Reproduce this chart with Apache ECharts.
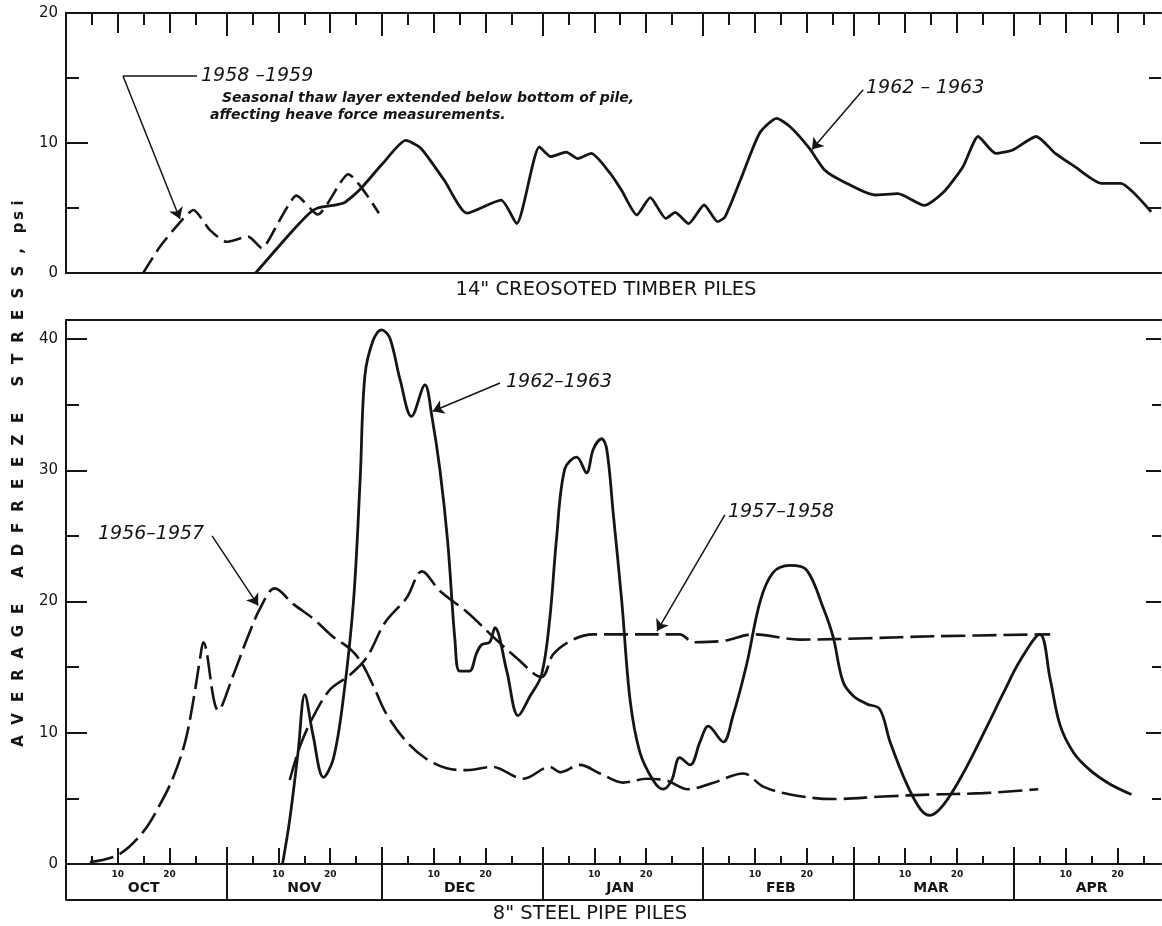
<!DOCTYPE html>
<html><head><meta charset="utf-8">
<script src="https://cdn.jsdelivr.net/npm/echarts@6/dist/echarts.min.js"></script>
<style>html,body{margin:0;padding:0;background:#fff;}#c{width:1162px;height:926px;}</style>
</head><body><div id="c"></div>
<script>
// ---------- data (day offset from 1 Oct boundary, value in psi) ----------
const monthNames = ['OCT','NOV','DEC','JAN','FEB','MAR','APR'];
const monthStarts = [0, 31, 61, 92, 123, 152, 183];
const dayTickLabels = ['10', '20'];
const topYLabels = [0, 10, 20];
const botYLabels = [0, 10, 20, 30, 40];

// 14" creosoted timber piles
const t5859Day = [14.9, 18.1, 22.0, 24.6, 27.8, 31.0, 35.2, 37.8, 41.3, 44.5, 48.6, 54.5, 60.4];
const t5859Val = [0, 2.0, 3.9, 4.85, 3.3, 2.4, 2.8, 1.9, 4.1, 5.95, 4.5, 7.6, 4.6];

const t6263Day = [36.6, 43.4, 47.0, 48.6, 51.5, 53.7, 56.7, 61.1, 65.6, 68.5, 73.0, 77.4, 84.0, 87.0, 91.4, 93.6, 96.6, 98.8, 101.4, 105.0, 107.2, 110.2, 112.8, 115.8, 117.6, 120.2, 123.2, 125.8, 127.2, 130.2, 133.9, 137.2, 139.8, 143.5, 146.5, 150.2, 156.1, 160.6, 165.7, 169.5, 173.2, 176.1, 179.5, 182.8, 187.3, 191.0, 194.7, 199.9, 203.6, 209.5];
const t6263Val = [0, 3.1, 4.6, 5.0, 5.2, 5.4, 6.4, 8.4, 10.2, 9.6, 7.15, 4.6, 5.6, 3.8, 9.7, 8.95, 9.3, 8.8, 9.2, 7.7, 6.4, 4.46, 5.8, 4.2, 4.67, 3.8, 5.23, 3.95, 4.3, 7.15, 10.75, 11.9, 11.25, 9.6, 7.9, 7.0, 6.0, 6.1, 5.2, 6.25, 8.2, 10.5, 9.2, 9.46, 10.5, 9.2, 8.2, 6.9, 6.9, 4.7];

// 8" steel pipe piles
const s5657Day = [4.6, 10.1, 14.9, 18.1, 20.7, 23.0, 24.6, 25.9, 26.5, 29.4, 32.3, 34.9, 37.5, 40.3, 43.9, 47.7, 51.6, 54.8, 56.8, 59.3, 61.9, 65.8, 69.6, 73.5, 77.4, 82.2, 88.3, 93.4, 95.4, 99.2, 103.1, 107.6, 112.1, 116.0, 120.1, 125.0, 130.8, 134.6, 139.8, 148.1, 157.8, 167.4, 177.1, 187.7];
const s5657Val = [0.15, 0.7, 2.45, 4.5, 6.6, 9.3, 12.5, 15.7, 16.9, 11.7, 14.4, 17.1, 19.5, 21.0, 19.8, 18.7, 17.3, 16.4, 15.5, 13.6, 11.4, 9.3, 8.0, 7.3, 7.15, 7.4, 6.5, 7.4, 7.0, 7.55, 6.9, 6.2, 6.5, 6.35, 5.7, 6.2, 6.9, 5.9, 5.3, 4.95, 5.14, 5.3, 5.4, 5.7];

const s5758Day = [43.2, 45.2, 47.7, 51.0, 54.8, 58.0, 61.6, 65.8, 68.7, 72.2, 77.4, 82.5, 87.0, 91.8, 94.1, 97.9, 101.8, 118.5, 121.1, 126.9, 132.7, 141.7, 154.6, 167.4, 190.0];
const s5758Val = [6.4, 9.0, 11.2, 13.3, 14.4, 15.7, 18.4, 20.3, 22.3, 20.8, 19.2, 17.3, 15.7, 14.25, 16.0, 17.1, 17.5, 17.5, 16.9, 17.0, 17.5, 17.1, 17.2, 17.35, 17.5];

const s6263Day = [41.8, 43.2, 44.8, 46.1, 47.7, 49.7, 51.6, 53.5, 55.5, 56.8, 57.7, 59.3, 60.9, 62.5, 64.5, 66.7, 69.3, 70.6, 72.2, 73.7, 75.1, 76.0, 77.9, 79.2, 80.2, 81.8, 82.8, 85.1, 87.3, 89.6, 91.8, 93.4, 94.7, 96.3, 98.6, 100.5, 101.8, 103.4, 104.4, 105.7, 107.3, 108.9, 110.8, 113.4, 115.3, 116.9, 118.5, 120.5, 122.4, 124.0, 126.9, 128.7, 131.4, 134.0, 136.5, 139.8, 143.0, 146.2, 148.1, 150.0, 152.0, 154.6, 157.1, 159.1, 162.3, 164.9, 166.8, 169.4, 173.2, 177.7, 181.0, 184.2, 188.0, 190.0, 191.9, 194.5, 197.7, 201.5, 205.7];
const s6263Val = [0, 3.4, 8.5, 12.9, 9.8, 6.6, 8.0, 12.5, 20.0, 29.4, 37.2, 39.9, 40.7, 40.1, 36.9, 34.1, 36.5, 34.2, 30.0, 24.5, 17.0, 14.7, 14.7, 16.0, 16.7, 16.9, 18.0, 14.7, 11.3, 12.8, 14.4, 18.7, 24.8, 30.1, 31.0, 29.8, 31.6, 32.4, 31.6, 26.5, 20.0, 12.5, 8.5, 6.35, 5.7, 6.35, 8.1, 7.55, 9.3, 10.5, 9.3, 11.2, 15.2, 20.0, 22.2, 22.75, 22.4, 19.5, 17.3, 13.9, 12.8, 12.2, 11.8, 9.3, 6.1, 4.2, 3.7, 4.5, 6.9, 10.4, 13.05, 15.5, 17.5, 14.1, 10.6, 8.5, 7.15, 6.1, 5.3];

// ---------- layout ----------
const INK = '#151515';
const FONT = '"DejaVu Sans", Verdana, sans-serif';
const XMAX = 211.4;
const zip = (a, b) => a.map((d, i) => [d, b[i]]);

const minorTicks = monthStarts.flatMap(s => [5, 15, 25].map(d => s + d)).filter(v => v < XMAX);
const majorTicks = monthStarts.flatMap(s => dayTickLabels.map(d => s + Number(d))).filter(v => v < XMAX);
const monthLabelPos = monthStarts.map(s => s + 15);
function monthIndex(v) { let k = 0; for (let i = 0; i < monthStarts.length; i++) if (monthStarts[i] <= v + 1e-6) k = i; return k; }

function tick(values, len, inside) {
  return { show: true, inside: inside, length: len, customValues: values, lineStyle: { color: INK, width: 2 } };
}
const noTick = { show: false };
const noLabel = { show: false };
function xAx(grid, pos, line, axisTick, axisLabel, offset) {
  return { type: 'value', gridIndex: grid, position: pos, min: 0, max: XMAX, offset: offset || 0,
    axisLine: { show: line, onZero: false, lineStyle: { color: INK, width: 2 } },
    axisTick: axisTick, axisLabel: axisLabel, splitLine: { show: false } };
}
function yAx(grid, pos, max, line, axisTick, axisLabel) {
  return { type: 'value', gridIndex: grid, position: pos, min: 0, max: max,
    axisLine: { show: line, onZero: false, lineStyle: { color: INK, width: 2 } },
    axisTick: axisTick, axisLabel: axisLabel, splitLine: { show: false } };
}
const yLab = vals => ({ show: true, customValues: vals, margin: 8, fontSize: 15, color: INK, fontFamily: FONT });

const xAxis = [
  xAx(0, 'bottom', true, noTick, noLabel),
  xAx(0, 'top', true, tick(minorTicks, 12, true), noLabel),
  xAx(0, 'top', false, tick(majorTicks, 20, true), noLabel),
  xAx(0, 'top', false, tick(monthStarts, 23, true), noLabel),
  xAx(1, 'bottom', true, tick(minorTicks, 8, true), { show: true, customValues: majorTicks, margin: 6, fontSize: 9, fontWeight: 'bold', color: INK, fontFamily: FONT,
      formatter: v => String(Math.round(v - monthStarts[monthIndex(v)])) }),
  xAx(1, 'bottom', false, tick(majorTicks, 16, true), noLabel),
  xAx(1, 'bottom', false, tick(monthStarts, 17, true), { show: true, customValues: monthLabelPos, margin: 17, fontSize: 14, fontWeight: 'bold', color: INK, fontFamily: FONT,
      formatter: v => monthNames[monthIndex(v)] }),
  xAx(1, 'bottom', false, tick(monthStarts, 36, false), noLabel),
  xAx(1, 'bottom', true, noTick, noLabel, 36),
  xAx(1, 'top', true, noTick, noLabel)
];
const BMAX = 41.45;
const yAxis = [
  yAx(0, 'left', 20, true, tick([10], 22, true), yLab(topYLabels)),
  yAx(0, 'left', 20, false, tick([5, 15], 13, true), noLabel),
  yAx(0, 'right', 20, false, tick([10], 21, true), noLabel),
  yAx(0, 'right', 20, false, tick([5, 15], 12, true), noLabel),
  yAx(1, 'left', BMAX, true, tick([10, 20, 30, 40], 21, true), yLab(botYLabels)),
  yAx(1, 'left', BMAX, false, tick([5, 15, 25, 35], 13, true), noLabel),
  yAx(1, 'right', BMAX, false, tick([10, 20, 30, 40], 15, true), noLabel),
  yAx(1, 'right', BMAX, false, tick([5, 15, 25, 35], 9, true), noLabel)
];

const solid = { color: INK, width: 2.8 };
const dashedTop = { color: INK, width: 2.6, type: [18, 7] };
const dashedBot = { color: INK, width: 2.6, type: [24, 7] };
function lineSeries(name, xi, yi, data, style, smooth) {
  return { name: name, type: 'line', xAxisIndex: xi, yAxisIndex: yi, data: data, symbol: 'none', showSymbol: false,
    smooth: smooth, lineStyle: style, silent: true, z: 3 };
}
function leaders(xi, yi, segs, arrow) {
  return { type: 'lines', coordinateSystem: 'cartesian2d', xAxisIndex: xi, yAxisIndex: yi, silent: true,
    symbol: arrow ? ['none', 'arrow'] : ['none', 'none'], symbolSize: [0, 11],
    lineStyle: { color: INK, width: 1.5, opacity: 1, curveness: 0 },
    itemStyle: { color: INK }, data: segs.map(c => ({ coords: c })), z: 4 };
}

const series = [
  lineSeries('1958-1959', 0, 0, zip(t5859Day, t5859Val), dashedTop, 0.2),
  lineSeries('1962-1963 timber', 0, 0, zip(t6263Day, t6263Val), solid, 0.2),
  lineSeries('1956-1957', 4, 4, zip(s5657Day, s5657Val), dashedBot, 0.35),
  lineSeries('1957-1958', 4, 4, zip(s5758Day, s5758Val), dashedBot, 0.35),
  lineSeries('1962-1963 steel', 4, 4, zip(s6263Day, s6263Val), solid, 0.35),
  leaders(0, 0, [[[25.3, 15.15], [11.0, 15.15]]], false),
  leaders(0, 0, [[[11.0, 15.15], [22.0, 4.15]], [[153.9, 14.1], [144.0, 9.5]]], true),
  leaders(4, 4, [[[83.8, 36.65], [70.8, 34.5]], [[127.2, 26.6], [114.1, 17.75]], [[28.2, 25.0], [37.1, 19.7]]], true)
];

function txt(x, y, text, font, align) {
  return { type: 'text', x: x, y: y, silent: true,
    style: { text: text, font: font, fill: INK, align: align || 'left', verticalAlign: 'middle', textAlign: align || 'left', textVerticalAlign: 'middle' } };
}
const yearFont = 'italic 19px ' + FONT;
const noteFont = 'italic bold 14px ' + FONT;
const graphics = [
  txt(606, 290, '14" CREOSOTED TIMBER PILES', '19.5px ' + FONT, 'center'),
  txt(590, 914, '8" STEEL PIPE PILES', '19.5px ' + FONT, 'center'),
  txt(201, 76, '1958 \u20131959', yearFont),
  txt(222, 98, 'Seasonal thaw layer extended below bottom of pile,', noteFont),
  txt(210, 115, 'affecting heave force measurements.', noteFont),
  txt(866, 88, '1962 \u2013 1963', yearFont),
  txt(506, 382, '1962\u20131963', yearFont),
  txt(728, 512, '1957\u20131958', yearFont),
  txt(98, 534, '1956\u20131957', yearFont)
];
// vertical axis title, letter-spaced, reading bottom to top
const yTitle = 'AVERAGE ADFREEZE STRESS, psi';
(function () {
  let y = 741;
  const chars = yTitle.split('');
  for (let i = 0; i < chars.length; i++) {
    const ch = chars[i];
    if (ch === ' ') { y -= (chars[i - 1] === ',' ? 10 : 15); continue; }
    graphics.push({ type: 'text', x: 19, y: y, rotation: Math.PI / 2, silent: true,
      style: { text: ch, font: 'bold 15px ' + FONT, fill: INK,
        align: 'center', verticalAlign: 'middle', textAlign: 'center', textVerticalAlign: 'middle' } });
    const next = chars[i + 1];
    if (ch >= 'a' && ch <= 'z') y -= 12.5;
    else if (ch === ',') y -= 13;
    else if (next === ',') y -= 20;
    else y -= 22;
  }
})();

const option = {
  backgroundColor: '#ffffff',
  animation: false,
  grid: [
    { left: 66, top: 13, width: 1095, height: 260, containLabel: false },
    { left: 66, top: 320, width: 1095, height: 544, containLabel: false }
  ],
  xAxis: xAxis,
  yAxis: yAxis,
  series: series,
  graphic: { elements: graphics }
};
const chart = echarts.init(document.getElementById('c'), null, { renderer: 'canvas' });
chart.setOption(option);
</script></body></html>
